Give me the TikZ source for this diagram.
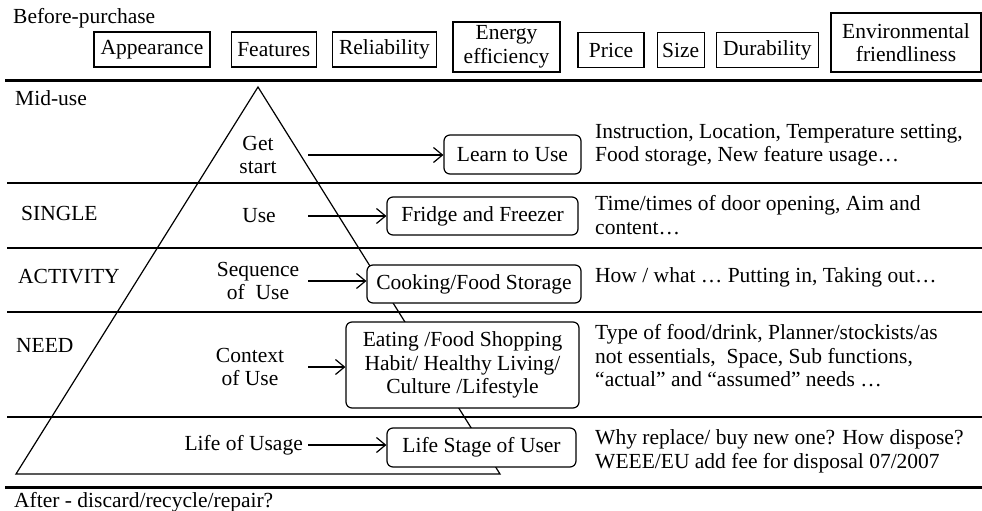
\documentclass[tikz,border=0pt]{standalone}
\usepackage{fontspec}
\setmainfont{Liberation Serif}
\usetikzlibrary{arrows.meta, positioning}

\begin{document}
\begin{tikzpicture}[
    x=1pt, y=-1pt,
    factor/.style={rectangle, draw, line width=1.2pt, inner sep=0pt, minimum height=35pt, align=center},
    stage/.style={rectangle, draw, line width=1.2pt, rounded corners=6pt, fill=white, inner sep=0pt, minimum height=38pt, align=center},
    level/.style={inner sep=0pt, anchor=west},
    note/.style={inner sep=0pt, anchor=west, align=left},
    arrow/.style={-{Straight Barb[length=9pt, width=15pt]}, line width=1.2pt},
    divider/.style={line width=1.5pt},
    bigdivider/.style={line width=3pt},
    font=\fontsize{21.5}{23.5}\selectfont
]
\useasboundingbox (0,0) rectangle (982,511);

% Phase separators
\draw[bigdivider] (5,80) -- (982,80);
\draw[bigdivider] (5,487) -- (982,487);
\foreach \y in {183, 248, 312, 417}
    \draw[divider] (7,\y) -- (982,\y);

% Pyramid
\coordinate (apex) at (258,87);
\coordinate (baseL) at (16,474);
\coordinate (baseR) at (500,474);
\draw[line width=1.2pt] (apex) -- (baseL) -- (baseR) -- cycle;

% Phases
\node[level] (before) at (13,18) {Before-purchase};
\node[level] (mid) at (15,98) {Mid-use};
\node[level] (after) at (14,502) {After - discard/recycle/repair?};

% Purchase factors
\node[factor, minimum width=116pt] (appear) at (152,49.5) {Appearance};
\node[factor, minimum width=85pt, right=20pt of appear] (feat) {Features};
\node[factor, minimum width=104pt, right=15pt of feat] (reliab) {Reliability};
\node[factor, minimum width=107pt, minimum height=50pt] (energy) at (506.5,47) {Energy\\efficiency};
\node[factor, minimum width=66pt] (price) at (611,50) {Price};
\node[factor, minimum width=47pt, right=12pt of price] (size) {Size};
\node[factor, minimum width=102pt, right=11pt of size] (durab) {Durability};
\node[factor, minimum width=150pt, minimum height=59pt] (envir) at (906,42.5) {Environmental\\friendliness};

% Levels
\node[level] (single) at (21,213) {SINGLE};
\node[level] (activity) at (18,277) {ACTIVITY};
\node[level] (need) at (16,345) {NEED};

% Use stages in the pyramid
\node[align=center, inner sep=0pt] (getstart) at (258,155) {Get\\start};
\node[inner sep=0pt] (use) at (259,216) {Use};
\node[align=center, inner sep=0pt] (sequence) at (258,281) {Sequence\\of~ Use};
\node[align=center, inner sep=0pt] (context) at (250,367) {Context\\of Use};
\node[inner sep=0pt, anchor=east] (lifeusage) at (303,445) {Life of Usage};

% Stage boxes
\node[stage, minimum width=137pt, minimum height=39pt] (learn) at (512.5,154.5) {Learn to Use};
\node[stage, minimum width=191pt] (fridge) at (482.5,216) {Fridge and Freezer};
\node[stage, minimum width=214pt] (cooking) at (474,284) {Cooking/Food Storage};
\node[stage, minimum width=233pt, minimum height=86pt] (eating) at (462.5,365) {Eating /Food Shopping\\Habit/ Healthy Living/\\Culture /Lifestyle};
\node[stage, minimum width=189pt, minimum height=39pt] (lifestage) at (481.5,447.5) {Life Stage of User};

% Arrows
\coordinate (arrowcol) at (308,0);
\draw[arrow] (getstart -| arrowcol) -- (getstart -| learn.west);
\draw[arrow] (use -| arrowcol) -- (use -| fridge.west);
\draw[arrow] (sequence -| arrowcol) -- (sequence -| cooking.west);
\draw[arrow] (context -| arrowcol) -- (context -| eating.west);
\draw[arrow] (lifeusage -| arrowcol) -- (lifeusage -| lifestage.west);

% Notes
\node[note] (learnnote) at (595,145) {Instruction, Location, Temperature setting,\\Food storage, New feature usage…};
\node[note] (fridgenote) at (595,215) {Time/times of door opening, Aim and\\content…};
\node[note] (cookingnote) at (595,277) {How / what … Putting in, Taking out…};
\node[note] (eatingnote) at (595,356) {Type of food/drink, Planner/stockists/as\\not essentials,~ Space, Sub functions,\\“actual” and “assumed” needs …};
\node[note] (lifenote) at (595,451.5) {Why replace/ buy new one? How dispose?\\WEEE/EU add fee for disposal 07/2007};

\end{tikzpicture}
\end{document}
